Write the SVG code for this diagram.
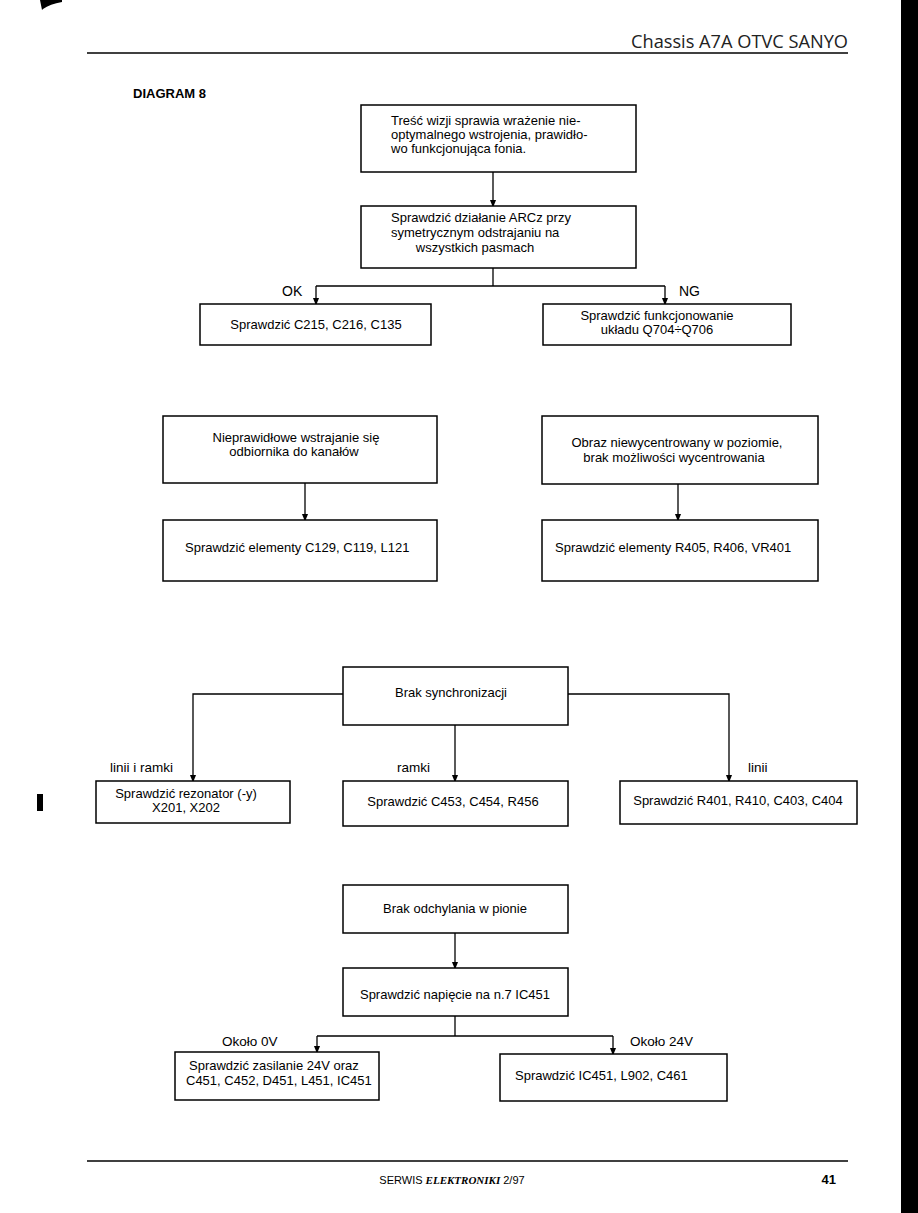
<svg xmlns="http://www.w3.org/2000/svg" width="918" height="1213" viewBox="0 0 918 1213">
<defs>
<marker id="ah" markerWidth="8" markerHeight="10" refX="8" refY="4" orient="auto" markerUnits="userSpaceOnUse" viewBox="0 0 10 8">
<path d="M0,0 L10,4 L0,8 Z" fill="#000"/>
</marker>
<style>
.box{fill:#fff;stroke:#000;stroke-width:1.5}
.t{font-family:"Liberation Sans",Arial,sans-serif;font-size:13px;fill:#000}
.c{text-anchor:middle}
.lbl{font-family:"Liberation Sans",Arial,sans-serif;font-size:14px;fill:#000}
.sl{font-family:"Liberation Sans",Arial,sans-serif;font-size:13.5px;fill:#000}
.ln{fill:none;stroke:#000;stroke-width:1.3}
.arr{fill:none;stroke:#000;stroke-width:1.3;marker-end:url(#ah)}
</style>
</defs>
<rect width="918" height="1213" fill="#fff"/>
<!-- scan marks -->
<rect x="901" y="0" width="17" height="1213" fill="#000"/>
<path d="M40,0 L62,0 L62,2 Q50,4 43,9 L42,10 Z" fill="#000"/>
<rect x="37" y="794" width="6" height="17" fill="#000"/>
<!-- header -->
<text x="848" y="48" font-family="'Open Sans','Liberation Sans',sans-serif" font-size="19" text-anchor="end" textLength="217" lengthAdjust="spacingAndGlyphs" fill="#222">Chassis A7A OTVC SANYO</text>
<line x1="87" y1="53" x2="848" y2="53" stroke="#000" stroke-width="1.6"/>
<text x="133" y="98" font-family="'Liberation Sans',Arial,sans-serif" font-size="13" font-weight="bold">DIAGRAM 8</text>

<g id="connectors">
<line class="arr" x1="493" y1="172" x2="493" y2="206"/>
<polyline class="ln" points="493,268 493,286"/>
<line class="ln" x1="316" y1="286" x2="665" y2="286"/>
<line class="arr" x1="316" y1="286" x2="316" y2="304"/>
<line class="arr" x1="665" y1="286" x2="665" y2="304"/>
<line class="arr" x1="305" y1="483" x2="305" y2="520"/>
<line class="arr" x1="678" y1="484" x2="678" y2="520"/>
<polyline class="arr" points="343,694 193,694 193,781"/>
<polyline class="arr" points="568,694 729,694 729,781"/>
<line class="arr" x1="455" y1="725" x2="455" y2="781"/>
<line class="arr" x1="455" y1="933" x2="455" y2="968"/>
<line class="ln" x1="455" y1="1016" x2="455" y2="1036"/>
<line class="ln" x1="317" y1="1036" x2="613" y2="1036"/>
<line class="arr" x1="317" y1="1036" x2="317" y2="1052"/>
<line class="arr" x1="613" y1="1036" x2="613" y2="1054"/>
<text class="lbl" x="282" y="296">OK</text>
<text class="lbl" x="679" y="296">NG</text>
<text class="sl" x="110" y="772">linii i ramki</text>
<text class="sl" x="397" y="772">ramki</text>
<text class="sl" x="748" y="772">linii</text>
<text class="sl" x="222" y="1046">Około 0V</text>
<text class="sl" x="630" y="1046">Około 24V</text>
</g>

<g id="n1">
<rect class="box" x="361" y="105" width="275" height="67"/>
<text class="t" x="391" y="125">Treść wizji sprawia wrażenie nie-</text>
<text class="t" x="391" y="139">optymalnego wstrojenia, prawidło-</text>
<text class="t" x="391" y="153">wo funkcjonująca fonia.</text>
</g>
<g id="n2">
<rect class="box" x="361" y="206" width="275" height="62"/>
<text class="t" x="391" y="222">Sprawdzić działanie ARCz przy</text>
<text class="t" x="391" y="237">symetrycznym odstrajaniu na</text>
<text class="t c" x="475" y="252">wszystkich pasmach</text>
</g>
<g id="n3">
<rect class="box" x="200" y="304" width="231" height="41"/>
<text class="t c" x="316" y="329">Sprawdzić C215, C216, C135</text>
</g>
<g id="n4">
<rect class="box" x="543" y="304" width="248" height="41"/>
<text class="t c" x="657" y="320">Sprawdzić funkcjonowanie</text>
<text class="t c" x="657" y="334">układu Q704÷Q706</text>
</g>
<g id="n5">
<rect class="box" x="163" y="416" width="274" height="67"/>
<text class="t c" x="296" y="442">Nieprawidłowe wstrajanie się</text>
<text class="t c" x="294" y="456">odbiornika do kanałów</text>
</g>
<g id="n6">
<rect class="box" x="163" y="520" width="274" height="61"/>
<text class="t" x="185" y="552">Sprawdzić elementy C129, C119, L121</text>
</g>
<g id="n7">
<rect class="box" x="542" y="416" width="276" height="68"/>
<text class="t c" x="677" y="447">Obraz niewycentrowany w poziomie,</text>
<text class="t c" x="674" y="462">brak możliwości wycentrowania</text>
</g>
<g id="n8">
<rect class="box" x="542" y="520" width="276" height="61"/>
<text class="t" x="555" y="552">Sprawdzić elementy R405, R406, VR401</text>
</g>
<g id="n9">
<rect class="box" x="343" y="667" width="225" height="58"/>
<text class="t c" x="451" y="697">Brak synchronizacji</text>
</g>
<g id="n10">
<rect class="box" x="96" y="781" width="194" height="42"/>
<text class="t c" x="186" y="798">Sprawdzić rezonator (-y)</text>
<text class="t c" x="186" y="812">X201, X202</text>
</g>
<g id="n11">
<rect class="box" x="343" y="781" width="225" height="45"/>
<text class="t c" x="453" y="806">Sprawdzić C453, C454, R456</text>
</g>
<g id="n12">
<rect class="box" x="620" y="781" width="237" height="43"/>
<text class="t c" x="738" y="805">Sprawdzić R401, R410, C403, C404</text>
</g>
<g id="n13">
<rect class="box" x="343" y="885" width="225" height="48"/>
<text class="t c" x="455" y="913">Brak odchylania w pionie</text>
</g>
<g id="n14">
<rect class="box" x="343" y="968" width="225" height="48"/>
<text class="t c" x="455" y="999">Sprawdzić napięcie na n.7 IC451</text>
</g>
<g id="n15">
<rect class="box" x="175" y="1052" width="204" height="48"/>
<text class="t" x="189" y="1070">Sprawdzić zasilanie 24V oraz</text>
<text class="t" x="186" y="1085">C451, C452, D451, L451, IC451</text>
</g>
<g id="n16">
<rect class="box" x="500" y="1054" width="227" height="47"/>
<text class="t" x="515" y="1080">Sprawdzić IC451, L902, C461</text>
</g>

<!-- footer -->
<line x1="87" y1="1161" x2="848" y2="1161" stroke="#000" stroke-width="1.6"/>
<text x="452" y="1184" font-family="'Liberation Sans',sans-serif" font-size="11" text-anchor="middle">SERWIS <tspan font-family="'Liberation Serif',serif" font-weight="bold" font-style="italic">ELEKTRONIKI</tspan>  2/97</text>
<text x="836" y="1184" font-family="'Liberation Sans',Arial,sans-serif" font-size="13" font-weight="bold" text-anchor="end">41</text>
</svg>
